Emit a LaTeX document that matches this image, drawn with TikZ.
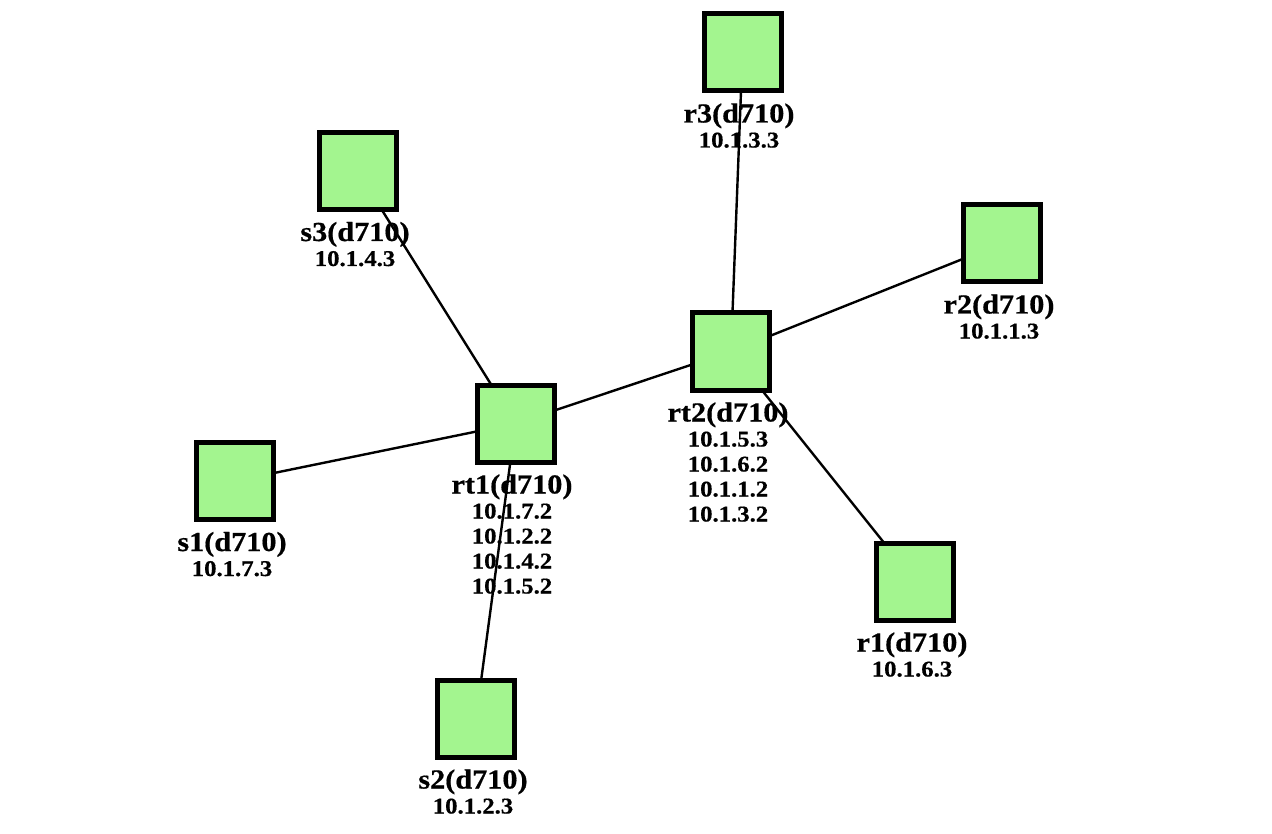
\documentclass[tikz,border=0pt]{standalone}
\usepackage{fontspec}
\setmainfont{Liberation Serif}
\newfontfamily\lblfont[FakeStretch=1.1,FakeBold=0.6]{Liberation Serif}
\pgfdeclarelayer{lbl}
\pgfdeclarelayer{edges}
\pgfsetlayers{lbl,edges,main}
\definecolor{boxgreen}{HTML}{A3F58F}
\newcommand{\tf}{\lblfont\bfseries\fontsize{27.5}{25}\selectfont}
\newcommand{\ipf}{\lblfont\bfseries\fontsize{22.5}{25}\selectfont}
\newcommand{\stackit}[1]{\vtop{\baselineskip=25pt\lineskiplimit=-1000pt\halign{\hfil##\hfil\cr#1}}}
\tikzset{
  dev/.style={draw=black, fill=boxgreen, line width=5pt, minimum size=77pt, inner sep=0pt, rectangle},
  lab/.style={anchor=base, inner sep=0pt, outer sep=0pt},
  link/.style={draw=black, line width=2.4pt}
}
\begin{document}
\begin{tikzpicture}[x=1pt,y=-1pt]
\useasboundingbox (0,0) rectangle (1272,834);
% devices
\node[dev] (r3)  at (742.5,52.5) {};
\node[dev] (s3)  at (357.5,171) {};
\node[dev] (r2)  at (1001.5,243.5) {};
\node[dev] (rt2) at (731,351.5) {};
\node[dev] (rt1) at (515.5,423.5) {};
\node[dev] (s1)  at (235,481) {};
\node[dev] (r1)  at (915,581.5) {};
\node[dev] (s2)  at (476,718.5) {};
% labels
\begin{pgfonlayer}{lbl}
\node[lab] (r3l)  at (739,122.5) {\stackit{\tf r3(d710)\cr\ipf 10.1.3.3\cr}};
\node[lab] (s3l)  at (355,241) {\stackit{\tf s3(d710)\cr\ipf 10.1.4.3\cr}};
\node[lab] (r2l)  at (999,313.5) {\stackit{\tf r2(d710)\cr\ipf 10.1.1.3\cr}};
\node[lab] (rt2l) at (728,421.5) {\stackit{\tf rt2(d710)\cr\ipf 10.1.5.3\cr\ipf 10.1.6.2\cr\ipf 10.1.1.2\cr\ipf 10.1.3.2\cr}};
\node[lab] (rt1l) at (512,493.5) {\stackit{\tf rt1(d710)\cr\ipf 10.1.7.2\cr\ipf 10.1.2.2\cr\ipf 10.1.4.2\cr\ipf 10.1.5.2\cr}};
\node[lab] (s1l)  at (232,551) {\stackit{\tf s1(d710)\cr\ipf 10.1.7.3\cr}};
\node[lab] (r1l)  at (912,651.5) {\stackit{\tf r1(d710)\cr\ipf 10.1.6.3\cr}};
\node[lab] (s2l)  at (473,788.5) {\stackit{\tf s2(d710)\cr\ipf 10.1.2.3\cr}};
\end{pgfonlayer}
% links
\begin{pgfonlayer}{edges}
\draw[link] (s1.center) -- (rt1.center);
\draw[link] (s3.center) -- (rt1.center);
\draw[link] (s2.center) -- (rt1.center);
\draw[link] (rt1.center) -- (rt2.center);
\draw[link] (rt2.center) -- (r3.center);
\draw[link] (rt2.center) -- (r2.center);
\draw[link] (rt2.center) -- (r1.center);
\end{pgfonlayer}
\end{tikzpicture}
\end{document}
